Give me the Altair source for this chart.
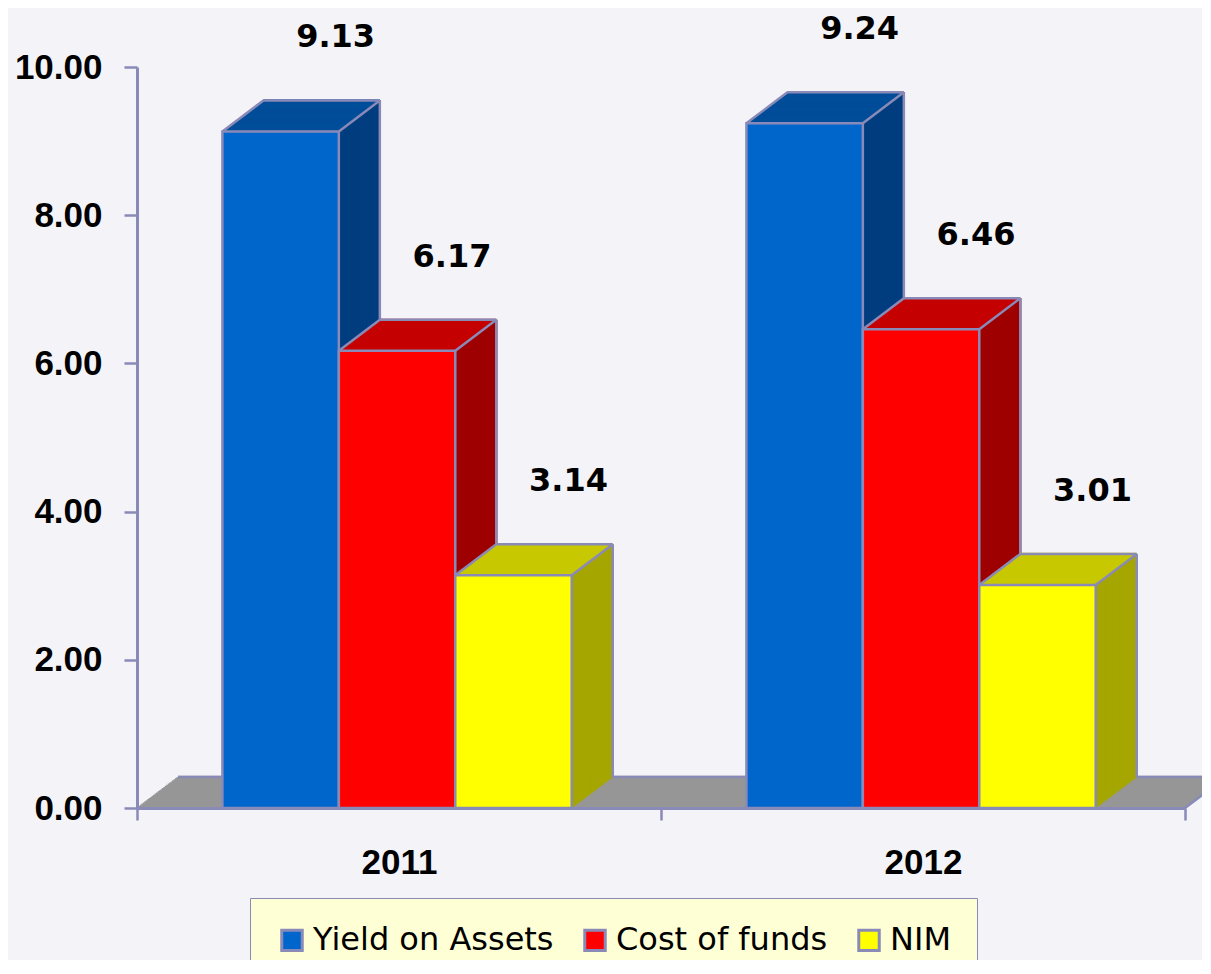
import altair as alt
import pandas as pd

# ---------------- data ----------------
YEARS = ["2011", "2012"]
SERIES = ["Yield on Assets", "Cost of funds", "NIM"]
YIELD_ON_ASSETS = [9.13, 9.24]
COST_OF_FUNDS = [6.17, 6.46]
NIM = [3.14, 3.01]
Y_TICKS = [0, 2, 4, 6, 8, 10]

# ---------------- style ----------------
FRONT = ["#0066CC", "#FF0000", "#FFFF00"]
TOP = ["#004D99", "#C40000", "#C8C800"]
SIDE = ["#003D7F", "#9E0000", "#A6A600"]
LAV = "#8A8AB8"
FLOOR = "#969696"
BG = "#F3F3F8"

W, H = 1048, 741
G_PAD = 0.163      # left padding inside a year group (fraction of group)
BAR_W = 0.2222     # bar width (fraction of group)
DX, DY = 41, -31   # 3D depth in pixels
N = 28             # extrusion steps
SX, SY = DX / N, DY / N
SW = 2.3

rows = []
for gi, yr in enumerate(YEARS):
    for si, (s, vals) in enumerate(zip(SERIES, [YIELD_ON_ASSETS, COST_OF_FUNDS, NIM])):
        rows.append({"year": yr, "series": s, "gi": gi, "si": si, "value": vals[gi]})
df = pd.DataFrame(rows)
floor_df = pd.DataFrame({"start": [0], "end": [len(YEARS)], "zero": [0]})

XQ = alt.Scale(domain=[0, len(YEARS)], nice=False, zero=False)
YS = alt.Scale(domain=[0, 10], nice=False)
YAX = alt.Axis(values=Y_TICKS, format=".2f", grid=False, domainColor=LAV, domainWidth=3,
               tickColor=LAV, tickWidth=2.5, tickSize=13, labelFont="Liberation Sans",
               labelFontWeight="bold", labelFontSize=35, labelColor="black",
               labelPadding=22, zindex=1, title=None)
XAX = alt.Axis(tickBand="extent", grid=False, domainColor=LAV, domainWidth=3,
               tickColor=LAV, tickWidth=2.5, tickSize=12, labelFont="Liberation Sans",
               labelFontWeight="bold", labelFontSize=35, labelColor="black",
               labelAngle=0, labelPadding=25, zindex=1, title=None)

def xq(f):
    return alt.X(f"{f}:Q", scale=XQ, axis=None, title=None)

def yv(f="value"):
    return alt.Y(f"{f}:Q", scale=YS, axis=YAX, title=None)

base = alt.Chart().transform_calculate(
    x0=f"datum.gi + {G_PAD} + datum.si * {BAR_W}",
    x1=f"datum.gi + {G_PAD} + (datum.si + 1) * {BAR_W}",
    xc=f"datum.gi + {G_PAD} + (datum.si + 0.5) * {BAR_W}",
    zero="0",
)

layers = []

# floor
floor = alt.Chart(floor_df)
for k in range(1, N + 1):
    layers.append(floor.mark_rule(color=FLOOR, strokeWidth=SW, xOffset=k * SX,
                                  x2Offset=k * SX, yOffset=k * SY)
                  .encode(x=xq("start"), x2="end", y=yv("zero")))
layers.append(floor.mark_rule(color=LAV, strokeWidth=2.5, xOffset=DX, x2Offset=DX, yOffset=DY)
              .encode(x=xq("start"), x2="end", y=yv("zero")))
layers.append(floor.mark_rule(color=LAV, strokeWidth=2.5, x2Offset=DX, y2Offset=DY)
              .encode(x=xq("end"), x2="end", y=yv("zero"), y2="zero"))

# 3D faces per series
for si in range(len(SERIES)):
    b = base.transform_filter(f"datum.si == {si}")
    for k in range(1, N + 1):
        layers.append(b.mark_rule(color=SIDE[si], strokeWidth=SW, xOffset=k * SX,
                                  yOffset=k * SY, y2Offset=k * SY)
                      .encode(x=xq("x1"), y=yv(), y2="zero"))
    for k in range(1, N + 1):
        layers.append(b.mark_rule(color=TOP[si], strokeWidth=SW, xOffset=k * SX,
                                  x2Offset=k * SX, yOffset=k * SY)
                      .encode(x=xq("x0"), x2="x1", y=yv()))
    # edges
    layers.append(b.mark_rule(color=LAV, strokeWidth=2.5, xOffset=DX, x2Offset=DX, yOffset=DY)
                  .encode(x=xq("x0"), x2="x1", y=yv()))
    layers.append(b.mark_rule(color=LAV, strokeWidth=2.5, xOffset=DX, yOffset=DY, y2Offset=DY)
                  .encode(x=xq("x1"), y=yv(), y2="zero"))
    layers.append(b.mark_rule(color=LAV, strokeWidth=2.5, x2Offset=DX, y2Offset=DY)
                  .encode(x=xq("x0"), x2="x0", y=yv(), y2="value"))
    layers.append(b.mark_rule(color=LAV, strokeWidth=2.5, x2Offset=DX, y2Offset=DY)
                  .encode(x=xq("x1"), x2="x1", y=yv(), y2="value"))

LEG = alt.Legend(orient="none", legendX=113, legendY=831, direction="horizontal", columns=3,
                 title=None, fillColor="#FFFFD5", strokeColor=LAV, padding=26,
                 symbolType="square", symbolSize=420, symbolStrokeColor=LAV,
                 symbolStrokeWidth=3, labelFont="DejaVu Sans", labelFontSize=32,
                 labelLimit=0, labelColor="black", columnPadding=24, labelOffset=5)

front = base.mark_bar(stroke=LAV, strokeWidth=2.5).encode(
    x=xq("x0"), x2="x1", y=yv(), y2="zero",
    color=alt.Color("series:N", scale=alt.Scale(domain=SERIES, range=FRONT), legend=LEG),
)
layers.append(front)

labels = base.mark_text(font="DejaVu Sans", fontWeight="bold", fontSize=32, dx=55, dy=-94,
                        color="black", baseline="middle", align="center").encode(
    x=xq("xc"), y=yv(), text=alt.Text("value:Q", format=".2f"))
layers.append(labels)

inner = alt.layer(*layers)

axis_layer = base.mark_point(opacity=0).encode(
    x=alt.X("year:N", scale=alt.Scale(domain=YEARS, paddingInner=0, paddingOuter=0), axis=XAX),
    y=yv(),
)

chart = alt.layer(axis_layer, inner, data=df).resolve_scale(x="independent").properties(
    width=W, height=H,
    padding={"left": 129, "top": 59, "right": 17, "bottom": 152},
    autosize=alt.AutoSizeParams(type="none"),
    background=BG,
).configure_view(stroke=None)

chart.save("out.html", embed_options={"renderer": "svg", "actions": False})
